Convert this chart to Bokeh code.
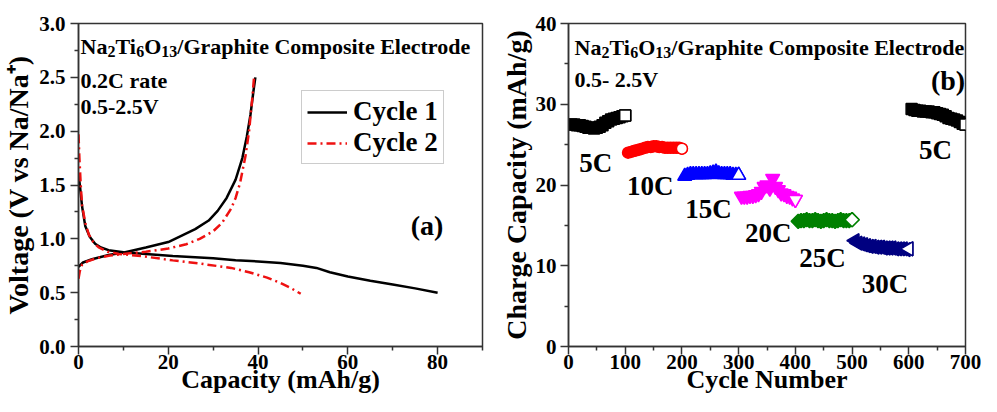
import math
from bokeh.plotting import figure
from bokeh.layouts import row
from bokeh.models import (Range1d, FixedTicker, PrintfTickFormatter, Label,
                          Legend, LegendItem)
from bokeh.embed import file_html
from bokeh.resources import INLINE

FONT = "Liberation Serif"

# ---------------- panel (a) data: voltage profiles ----------------
c1_dis_cap = [0, 0.3, 0.8, 1.5, 2.5, 3.7, 5, 6.7, 10, 15, 21, 30, 35, 40, 45, 50, 53, 56, 60, 65, 70, 75, 80]
c1_dis_v = [1.60, 1.50, 1.30, 1.12, 1.02, 0.955, 0.92, 0.895, 0.875, 0.86, 0.84, 0.82, 0.80, 0.79, 0.775, 0.75, 0.73, 0.69, 0.65, 0.61, 0.575, 0.54, 0.50]
c1_chg_cap = [0, 1, 3, 6.7, 10.4, 15, 20, 23, 26, 29, 31, 33, 35, 36.5, 37.5, 38.3, 39, 39.4]
c1_chg_v = [0.74, 0.78, 0.81, 0.85, 0.875, 0.92, 0.97, 1.03, 1.09, 1.17, 1.26, 1.38, 1.55, 1.75, 1.95, 2.15, 2.38, 2.5]
c2_dis_cap = [0, 0.2, 0.5, 0.8, 1.5, 2.3, 3.3, 4.5, 6.5, 9, 14, 21, 27, 34, 38, 42, 45, 47, 49.5]
c2_dis_v = [1.97, 1.75, 1.50, 1.31, 1.15, 1.04, 0.97, 0.92, 0.88, 0.86, 0.84, 0.80, 0.77, 0.73, 0.69, 0.64, 0.59, 0.55, 0.49]
c2_chg_cap = [0, 0.3, 0.8, 2, 4, 7, 10, 15, 20, 24, 27, 30, 32, 34, 35, 36, 37.2, 38, 38.7, 39.1]
c2_chg_v = [0.63, 0.70, 0.76, 0.79, 0.82, 0.845, 0.86, 0.88, 0.91, 0.95, 1.0, 1.07, 1.15, 1.28, 1.38, 1.52, 1.77, 2.0, 2.3, 2.5]
legend_labels = ["Cycle 1", "Cycle 2"]

a_xticks = [0, 20, 40, 60, 80]
a_xminor = [10, 30, 50, 70, 90]
a_yticks = [0.0, 0.5, 1.0, 1.5, 2.0, 2.5, 3.0]
a_yminor = [0.25, 0.75, 1.25, 1.75, 2.25, 2.75]

# ---------------- panel (b) data: rate capability ----------------
seg_start = [0, 100, 200, 300, 400, 500, 600]
rate_5c_a = [27.5, 27.5, 27.4, 27.4, 27.3, 27.2, 27.1, 27.1, 27.0, 27.1, 27.2, 27.4, 27.7, 27.9, 28.1, 28.2, 28.3, 28.4, 28.5, 28.6]
rate_10c = [24.0, 24.1, 24.2, 24.3, 24.4, 24.5, 24.6, 24.7, 24.7, 24.8, 24.8, 24.7, 24.7, 24.6, 24.6, 24.6, 24.6, 24.6, 24.6, 24.5]
rate_15c = [21.1, 21.2, 21.3, 21.3, 21.3, 21.3, 21.3, 21.3, 21.3, 21.4, 21.5, 21.6, 21.4, 21.3, 21.3, 21.3, 21.3, 21.2, 21.2, 21.2]
rate_20c = [18.6, 18.6, 18.6, 18.7, 18.7, 18.8, 18.9, 19.2, 19.8, 20.0, 19.6, 20.8, 19.8, 19.4, 19.0, 18.9, 18.7, 18.6, 18.4, 18.2]
rate_25c = [15.5, 15.6, 15.6, 15.7, 15.6, 15.6, 15.7, 15.6, 15.5, 15.6, 15.7, 15.6, 15.6, 15.5, 15.6, 15.7, 15.6, 15.6, 15.6, 15.7]
rate_30c = [13.1, 12.8, 12.7, 12.6, 12.5, 12.4, 12.4, 12.3, 12.3, 12.3, 12.2, 12.2, 12.2, 12.2, 12.1, 12.1, 12.1, 12.1, 12.0, 12.1]
rate_5c_b = [29.4, 29.3, 29.2, 29.2, 29.1, 29.1, 29.1, 29.0, 29.0, 28.9, 28.8, 28.7, 28.5, 28.3, 28.2, 28.1, 28.0, 27.8, 27.6, 27.5]
rate_values = [rate_5c_a, rate_10c, rate_15c, rate_20c, rate_25c, rate_30c, rate_5c_b]
rate_labels = ["5C", "10C", "15C", "20C", "25C", "30C", "5C"]

b_xticks = [0, 100, 200, 300, 400, 500, 600, 700]
b_xminor = [50, 150, 250, 350, 450, 550, 650]
b_yticks = [0, 10, 20, 30, 40]
b_yminor = [5, 15, 25, 35]

# ---------------- styling helpers ----------------
AX = "#333333"
W = {"N": 722, "a": 500, "T": 667, "i": 278, "O": 778,
     "1": 500, "2": 500, "3": 500, "6": 500}


def style_axis(ax, ticks, minor, label_size):
    ax.ticker = FixedTicker(ticks=ticks, minor_ticks=minor)
    ax.axis_line_color = AX
    ax.axis_line_width = 1.5
    ax.major_tick_line_color = AX
    ax.major_tick_line_width = 1.5
    ax.minor_tick_line_color = AX
    ax.minor_tick_line_width = 1.5
    ax.major_tick_out = 8
    ax.major_tick_in = 0
    ax.minor_tick_out = 4
    ax.minor_tick_in = 0
    ax.major_label_text_font = FONT
    ax.major_label_text_font_style = "bold"
    ax.major_label_text_font_size = "21px"
    ax.major_label_text_color = "black"
    ax.axis_label_text_font = FONT
    ax.axis_label_text_font_style = "bold"
    ax.axis_label_text_font_size = f"{label_size}px"
    ax.axis_label_text_color = "black"


def add_text(p, x, y, text, size, dx=0, dy=0, align="left"):
    p.add_layout(Label(x=x, y=y, x_offset=dx, y_offset=dy, text=text,
                       text_font=FONT, text_font_style="bold",
                       text_font_size=f"{size}px", text_color="black",
                       text_align=align, text_baseline="alphabetic"))


def add_formula(p, x, y, dx, dy):
    pieces = [("Na", False), ("2", True), ("Ti", False), ("6", True),
              ("O", False), ("13", True), ("/Graphite Composite Electrode", False)]
    for txt, sub in pieces:
        size = 16 if sub else 22
        add_text(p, x, y, txt, size, dx, dy - (5 if sub else 0))
        if all(c in W for c in txt):
            dx += sum(W[c] for c in txt) / 1000 * size


def base_fig(width, xr, yr, bl, br, bt):
    p = figure(width=width, height=396, x_range=Range1d(*xr), y_range=Range1d(*yr),
               output_backend="svg", toolbar_location=None, title=None,
               min_border_left=bl, min_border_right=br,
               min_border_top=bt, min_border_bottom=20)
    p.xgrid.visible = False
    p.ygrid.visible = False
    p.outline_line_color = AX
    p.outline_line_width = 1.5
    p.background_fill_color = "white"
    p.border_fill_color = "white"
    return p


# ---------------- panel (a) ----------------
p1 = base_fig(497, (0, 90), (0, 3), 73, 15, 17)
style_axis(p1.xaxis[0], a_xticks, a_xminor, 26)
style_axis(p1.yaxis[0], a_yticks, a_yminor, 28)
p1.yaxis[0].formatter = PrintfTickFormatter(format="%.1f")
p1.yaxis[0].major_label_standoff = 5
p1.xaxis[0].major_label_standoff = 0
p1.xaxis[0].axis_label = "Capacity (mAh/g)"
p1.xaxis[0].axis_label_standoff = -7
p1.yaxis[0].axis_label = "Voltage (V vs Na/Na\u207a)"
p1.yaxis[0].axis_label_standoff = 2

r1 = p1.line(c1_dis_cap, c1_dis_v, line_color="black", line_width=2.5)
p1.line(c1_chg_cap, c1_chg_v, line_color="black", line_width=2.5)
r2 = p1.line(c2_dis_cap, c2_dis_v, line_color="#ee1111", line_width=2.5, line_dash="9 4 2 4")
p1.line(c2_chg_cap, c2_chg_v, line_color="#ee1111", line_width=2.5, line_dash="9 4 2 4")

leg = Legend(items=[LegendItem(label=legend_labels[0], renderers=[r1]),
                    LegendItem(label=legend_labels[1], renderers=[r2])],
             location=(223, 182))
leg.label_text_font = FONT
leg.label_text_font_style = "bold"
leg.label_text_font_size = "27px"
leg.label_text_color = "black"
leg.glyph_width = 40
leg.label_standoff = 6
leg.padding = 5
leg.spacing = 0
leg.border_line_color = "#999999"
leg.border_line_width = 1.5
leg.background_fill_color = "white"
leg.background_fill_alpha = 1.0
p1.add_layout(leg)

add_formula(p1, 0, 3, 2, -23)
add_text(p1, 0, 3, "0.2C rate", 22, 2, -57)
add_text(p1, 0, 3, "0.5-2.5V", 22, 2, -83)
add_text(p1, 74.0, 1.12, "(a)", 28)

# ---------------- panel (b) ----------------
p2 = base_fig(484, (0, 700), (0, 40), 69, 16, 23)
style_axis(p2.xaxis[0], b_xticks, b_xminor, 26)
style_axis(p2.yaxis[0], b_yticks, b_yminor, 28)
p2.yaxis[0].major_label_standoff = 4
p2.xaxis[0].major_label_standoff = 0
p2.xaxis[0].axis_label = "Cycle Number"
p2.xaxis[0].axis_label_standoff = -7
p2.yaxis[0].axis_label = "Charge Capacity (mAh/g)"
p2.yaxis[0].axis_label_standoff = 1

seg_styles = [
    dict(marker="square", color="black", size=11, angle=0),
    dict(marker="circle", color="#ff0000", size=11, angle=0),
    dict(marker="triangle", color="#0000ff", size=14, angle=0),
    dict(marker="inverted_triangle", color="#ff00ff", size=14, angle=0),
    dict(marker="square", color="#008000", size=10, angle=math.pi / 4),
    dict(marker="triangle", color="#000080", size=14, angle=math.pi / 2),
    dict(marker="square", color="black", size=11, angle=0),
]
for start, vals, st in zip(seg_start, rate_values, seg_styles):
    cyc = list(range(start + 5, start + 101, 5))
    p2.scatter(cyc, vals, marker=st["marker"], size=st["size"], angle=st["angle"],
               fill_color=st["color"], line_color=st["color"], line_width=1.5)
    p2.scatter([cyc[-1]], [vals[-1]], marker=st["marker"], size=st["size"], angle=st["angle"],
               fill_color="white", line_color=st["color"], line_width=1.5)

label_pos = [(19, 22.7), (103, 19.9), (206, 17.0), (311, 14.1), (407, 11.0), (517, 7.8), (618, 24.3)]
for txt, (lx, ly) in zip(rate_labels, label_pos):
    add_text(p2, lx, ly, txt, 27)

add_formula(p2, 0, 40, 6, -24)
add_text(p2, 0, 40, "0.5- 2.5V", 22, 6, -56)
add_text(p2, 639, 33.0, "(b)", 28)

layout = row(p1, p2)
open("out.html", "w").write(file_html(layout, INLINE))
